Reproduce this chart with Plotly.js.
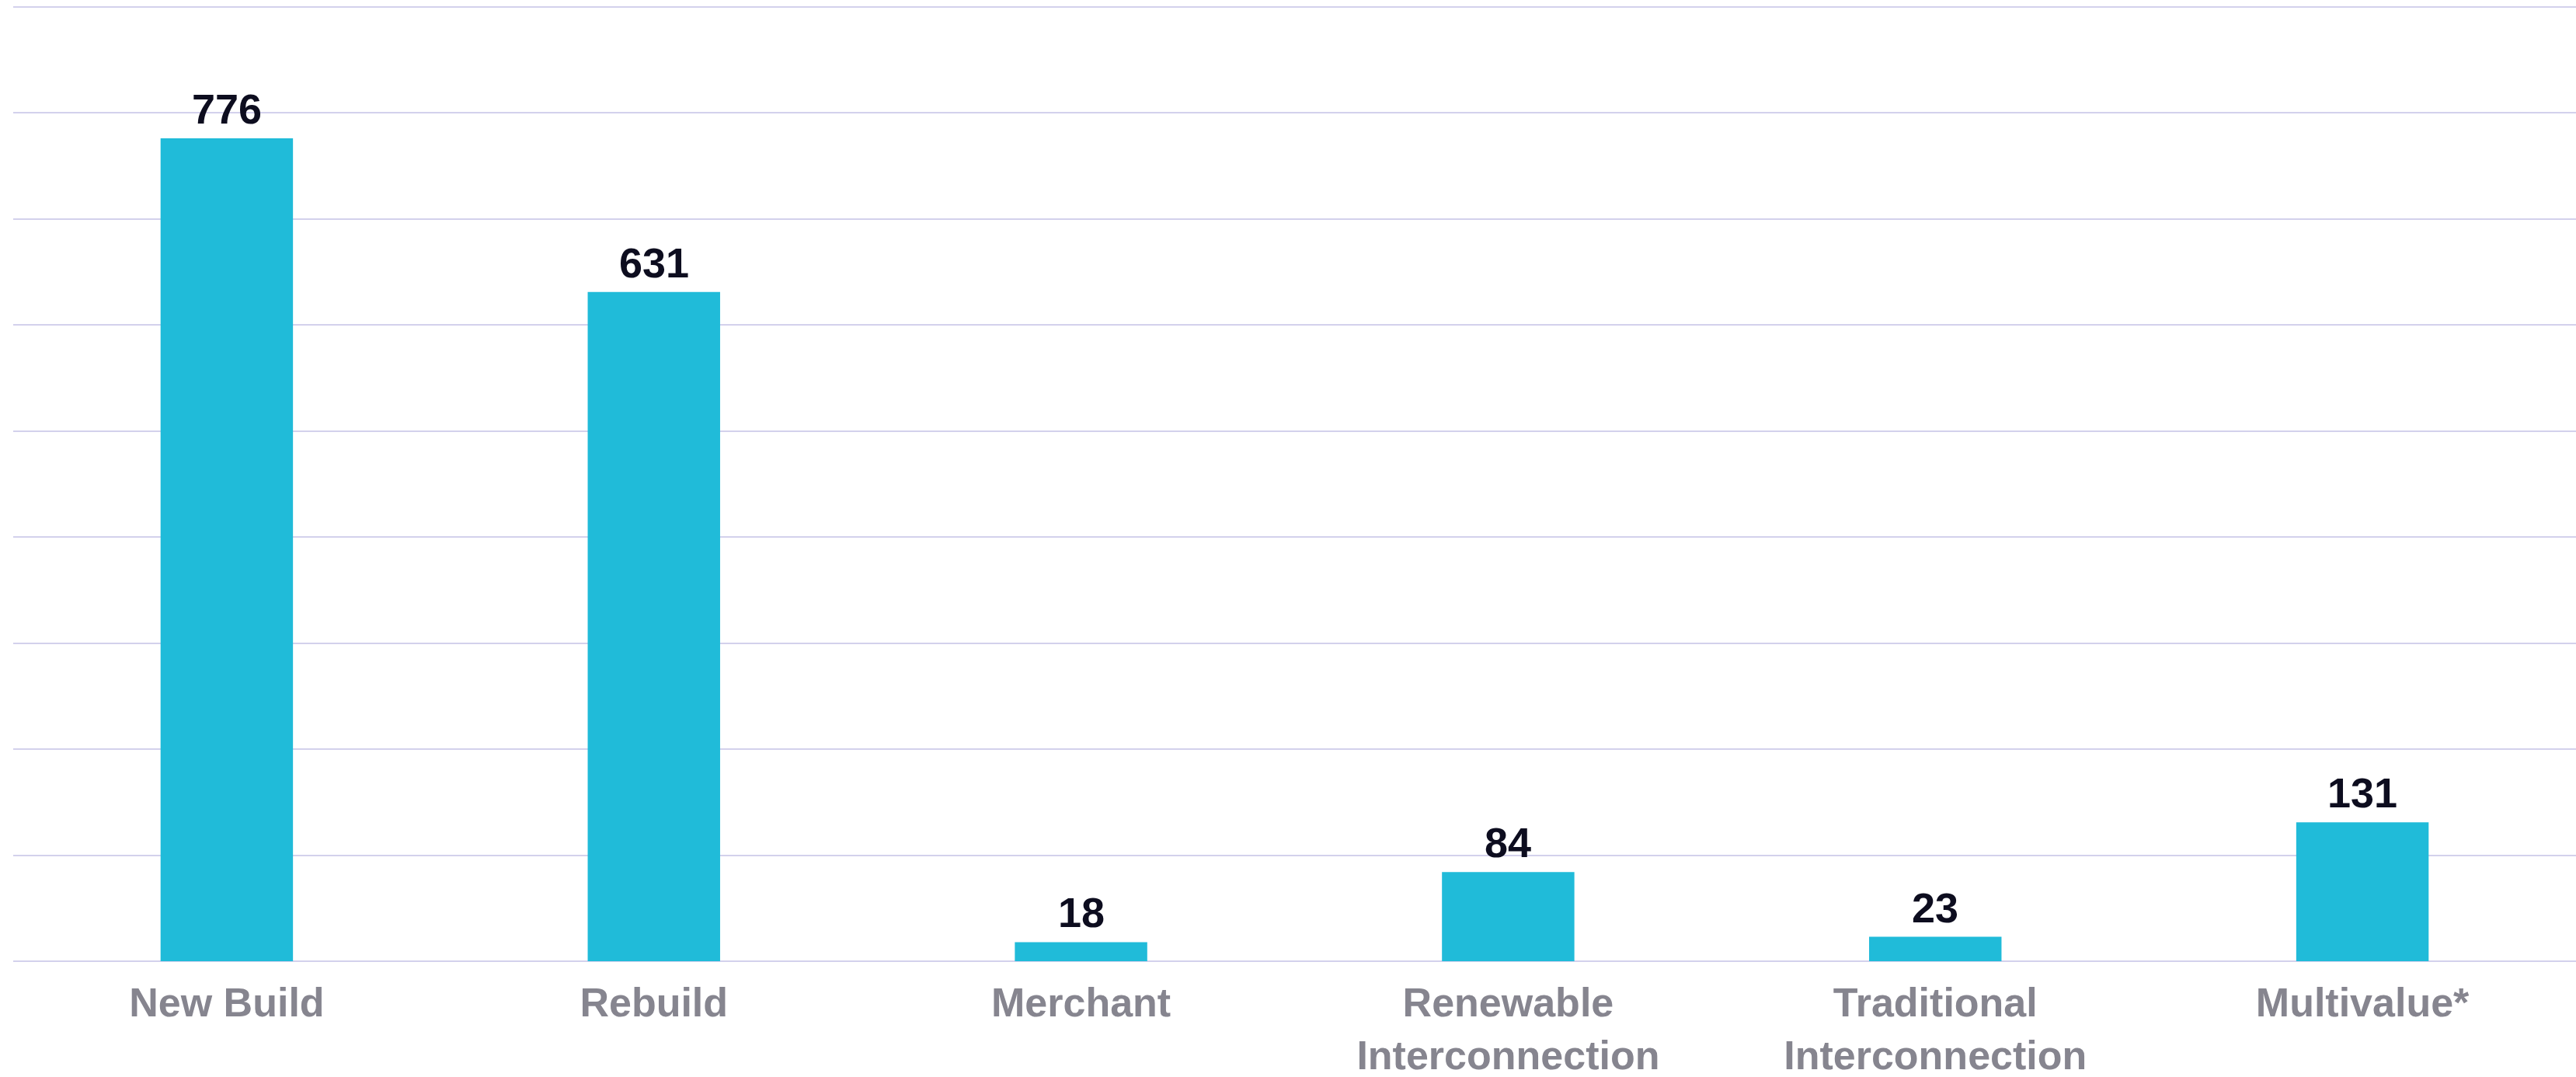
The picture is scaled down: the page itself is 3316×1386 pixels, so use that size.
<!DOCTYPE html>
<html>
<head>
<meta charset="utf-8">
<script src="https://cdn.plot.ly/plotly-3.0.1.min.js"></script>
<style>html,body{margin:0;padding:0;background:#fff;}#chart{width:3316px;height:1386px;}</style>
</head>
<body>
<div id="chart"></div>
<script>
const categories = ['New Build', 'Rebuild', 'Merchant', 'Renewable Interconnection', 'Traditional Interconnection', 'Multivalue*'];
const tickLabels = ['New Build', 'Rebuild', 'Merchant', 'Renewable<br>Interconnection', 'Traditional<br>Interconnection', 'Multivalue*'];
const values = [776, 631, 18, 84, 23, 131];
const yTicks = [0, 100, 200, 300, 400, 500, 600, 700, 800, 900];

const FONT = '"Liberation Sans", Arial, Helvetica, sans-serif';

const trace = {
  type: 'bar',
  x: categories,
  y: values,
  marker: {color: '#20BBD9'},
  hoverinfo: 'none'
};

const annotations = categories.map((c, i) => ({
  x: c, y: values[i], xref: 'x', yref: 'y',
  text: String(values[i]), showarrow: false,
  yanchor: 'bottom', yshift: 6,
  font: {family: FONT, size: 54, color: '#0d0d1f', weight: 'bold'}
}));

const layout = {
  width: 3316, height: 1386,
  margin: {l: 17, r: 0, t: 6, b: 149},
  paper_bgcolor: '#ffffff', plot_bgcolor: '#ffffff',
  bargap: 0.69,
  showlegend: false,
  xaxis: {
    type: 'category',
    tickvals: categories, ticktext: tickLabels,
    showgrid: false, showline: false, ticks: '',
    ticklabelstandoff: 18,
    tickfont: {family: FONT, size: 52, color: '#86858f', weight: 'bold'}
  },
  yaxis: {
    range: [0, 902], tickvals: yTicks, showticklabels: false,
    showgrid: true, gridcolor: '#d3d1ec', gridwidth: 2,
    zeroline: true, zerolinecolor: '#d3d1ec', zerolinewidth: 2,
    showline: false, ticks: ''
  },
  annotations: annotations
};

Plotly.newPlot('chart', [trace], layout, {staticPlot: true, displayModeBar: false});
</script>
</body>
</html>
